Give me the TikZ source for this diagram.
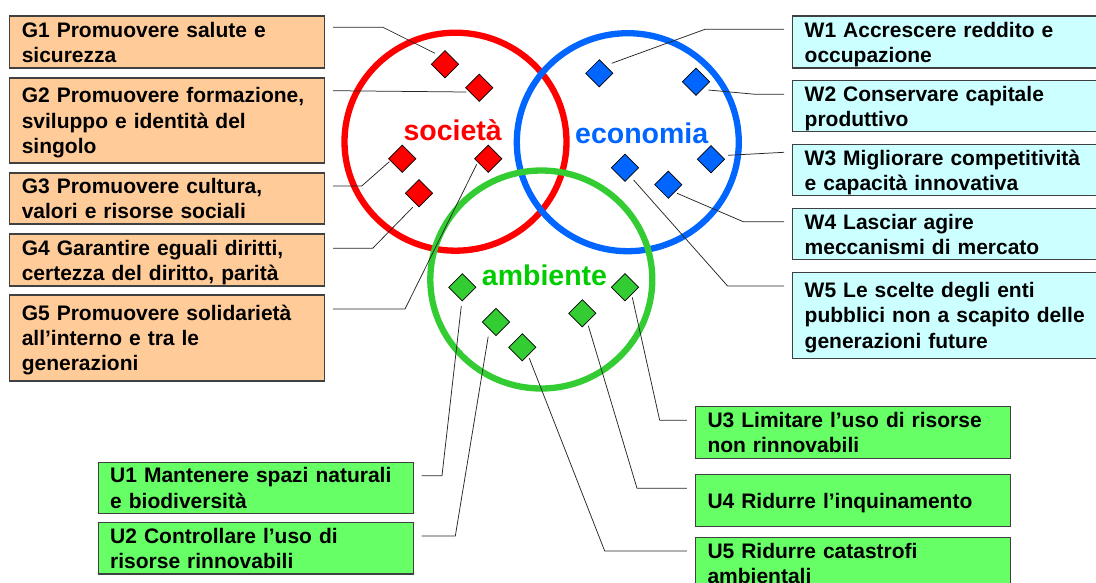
\documentclass[tikz,border=0pt]{standalone}
\usepackage{fontspec}
\setmainfont{Liberation Sans}
\usetikzlibrary{shapes.geometric}

\definecolor{socred}{HTML}{FF0000}
\definecolor{ecoblue}{HTML}{0066FF}
\definecolor{ambring}{HTML}{33CC33}
\definecolor{ambtext}{HTML}{00CC00}
\definecolor{gfill}{HTML}{FFCC99}
\definecolor{wfill}{HTML}{CCFFFF}
\definecolor{ufill}{HTML}{66FF66}

% fixed line strut: every text line gets the same ascent/descent
\newcommand\bxstrut{\rule[-5pt]{0pt}{25.3pt}}

\begin{document}
\begin{tikzpicture}[x=1pt, y=-1pt,
  aimbox/.style={draw=black!75, line width=1.2pt, anchor=north west, outer sep=0pt,
    align=left, inner xsep=12pt, inner ysep=0pt,
    font=\bfseries\fontsize{21}{25.3}\selectfont,
    execute at begin node=\bxstrut, execute at end node=\bxstrut},
  gbox/.style={aimbox, fill=gfill, text width=290.6pt},
  wbox/.style={aimbox, fill=wfill, text width=306pt},
  ubox/.style={aimbox, fill=ufill, text width=291pt},
  ring/.style={line width=6.3pt, x radius=111, y radius=109},
  marker/.style={diamond, draw=black, line width=0.7pt, inner sep=0pt,
    minimum width=27.5pt, minimum height=27.5pt},
  area/.style={anchor=base west, inner sep=0pt, font=\bfseries\fontsize{28.5}{32}\selectfont},
  conn/.style={draw=black!85, line width=0.75pt}
]
\useasboundingbox (0,0) rectangle (1096,582);
\clip (0,0) rectangle (1096,582);

% the three overlapping areas
\draw[ring, socred] (455.5,141.7) ellipse [];
\draw[ring, ecoblue] (627.8,142.2) ellipse [];
\draw[ring, ambring] (541.3,279.5) ellipse [];

\node[area, text=socred]  (lsoc) at (403.3,140.7) {società};
\node[area, text=ecoblue] (leco) at (575,143.3) {economia};
\node[area, text=ambtext] (lamb) at (481.7,285.7) {ambiente};

% goal boxes: society
\node[gbox, minimum height=52pt] (G1) at (9.8,16) {G1 Promuovere salute e\\sicurezza};
\node[gbox, minimum height=85pt] (G2) at (9.8,78) {G2 Promuovere formazione,\\sviluppo e identità del\\singolo};
\node[gbox, minimum height=51pt] (G3) at (9.8,173) {G3 Promuovere cultura,\\valori e risorse sociali};
\node[gbox, minimum height=52pt] (G4) at (9.8,234) {G4 Garantire eguali diritti,\\certezza del diritto, parità};
\node[gbox, minimum height=86pt] (G5) at (9.8,295) {G5 Promuovere solidarietà\\all’interno e tra le\\generazioni};

% goal boxes: economy
\node[wbox, minimum height=52pt] (W1) at (792.7,16) {W1 Accrescere reddito e\\occupazione};
\node[wbox, minimum height=51.4pt] (W2) at (792.7,80.3) {W2 Conservare capitale\\produttivo};
\node[wbox, minimum height=51.4pt] (W3) at (792.7,144.3) {W3 Migliorare competitività\\e capacità innovativa};
\node[wbox, minimum height=51.4pt] (W4) at (792.7,208.3) {W4 Lasciar agire\\meccanismi di mercato};
\node[wbox, minimum height=86pt] (W5) at (792.7,272.3) {W5 Le scelte degli enti\\pubblici non a scapito delle\\generazioni future};

% goal boxes: environment
\node[ubox, minimum height=51pt] (U1) at (98.2,462.3) {U1 Mantenere spazi naturali\\e biodiversità};
\node[ubox, minimum height=51.7pt] (U2) at (98.2,522.3) {U2 Controllare l’uso di\\risorse rinnovabili};
\node[ubox, minimum height=52pt] (U3) at (695.5,406.5) {U3 Limitare l’uso di risorse\\non rinnovabili};
\node[ubox, minimum height=52pt] (U4) at (695.5,474.4) {U4 Ridurre l’inquinamento};
\node[ubox, minimum height=52pt] (U5) at (695.5,537.5) {U5 Ridurre catastrofi\\ambientali};

% markers
\node[marker, fill=socred] (dG1) at (445,64.3) {};
\node[marker, fill=socred] (dG2) at (479.3,87.7) {};
\node[marker, fill=socred] (dG3) at (402.3,158.7) {};
\node[marker, fill=socred] (dG5) at (488.3,158.7) {};
\node[marker, fill=socred] (dG4) at (419,193.3) {};

\node[marker, fill=ecoblue] (dW1) at (599.3,73.3) {};
\node[marker, fill=ecoblue] (dW2) at (696,81.7) {};
\node[marker, fill=ecoblue] (dW3) at (711,159.3) {};
\node[marker, fill=ecoblue] (dW5) at (625,167.7) {};
\node[marker, fill=ecoblue] (dW4) at (668.3,184.7) {};

\node[marker, fill=ambring] (dU1) at (462.3,287.3) {};
\node[marker, fill=ambring] (dU2) at (496,322) {};
\node[marker, fill=ambring] (dU5) at (522.3,347.3) {};
\node[marker, fill=ambring] (dU4) at (582.3,313.3) {};
\node[marker, fill=ambring] (dU3) at (625,287.3) {};

% leader lines from the boxes to their markers
\draw[conn] ([xshift=8.6pt,yshift=-11.3pt]G1.north east) -- ++(50,0) -- ([shift={(-10,-11)}]dG1.center);
\draw[conn] ([xshift=8.6pt,yshift=-12.7pt]G2.north east) -- ([shift={(-13,4.3)}]dG2.center);
\draw[conn] ([xshift=8.6pt,yshift=-13pt]G3.north east) -- ++(28.7,0) -- ([shift={(-13,3)}]dG3.center);
\draw[conn] ([xshift=8.6pt,yshift=-14.3pt]G4.north east) -- ++(39.7,0) -- ([shift={(-6.3,14)}]dG4.center);
\draw[conn] ([xshift=8.6pt,yshift=-14pt]G5.north east) -- ++(72,0) -- ([shift={(-11.6,5.6)}]dG5.center);

\draw[conn] ([xshift=-8.7pt,yshift=-13.3pt]W1.north west) -- ++(-79,0) -- ([shift={(12.4,-10)}]dW1.center);
\draw[conn] ([xshift=-8.7pt,yshift=-14pt]W2.north west) -- ++(-28.6,0) -- ([shift={(12.4,8.3)}]dW2.center);
\draw[conn] ([xshift=-8.7pt,yshift=-8pt]W3.north west) -- ([shift={(17,-4)}]dW3.center);
\draw[conn] ([xshift=-8.7pt,yshift=-13.4pt]W4.north west) -- ++(-40.8,0) -- ([shift={(8.8,8.6)}]dW4.center);
\draw[conn] ([xshift=-8.7pt,yshift=-13.7pt]W5.north west) -- ++(-56.4,0) -- ([shift={(8.6,12.3)}]dW5.center);

\draw[conn] ([xshift=8.4pt,yshift=-13.4pt]U1.north east) -- ++(20.4,0) -- ([shift={(-1,18.7)}]dU1.center);
\draw[conn] ([xshift=8.4pt,yshift=-13.7pt]U2.north east) -- ++(33.7,0) -- ([shift={(-7.8,14.7)}]dU2.center);
\draw[conn] ([xshift=-8.7pt,yshift=-13.8pt]U3.north west) -- ++(-27.1,0) -- ([shift={(7.3,10)}]dU3.center);
\draw[conn] ([xshift=-8.7pt,yshift=-13.9pt]U4.north west) -- ++(-49.8,0) -- ([shift={(6,12.4)}]dU4.center);
\draw[conn] ([xshift=-8.7pt,yshift=-13.5pt]U5.north west) -- ++(-82.1,0) -- ([shift={(7,11)}]dU5.center);
\end{tikzpicture}
\end{document}
